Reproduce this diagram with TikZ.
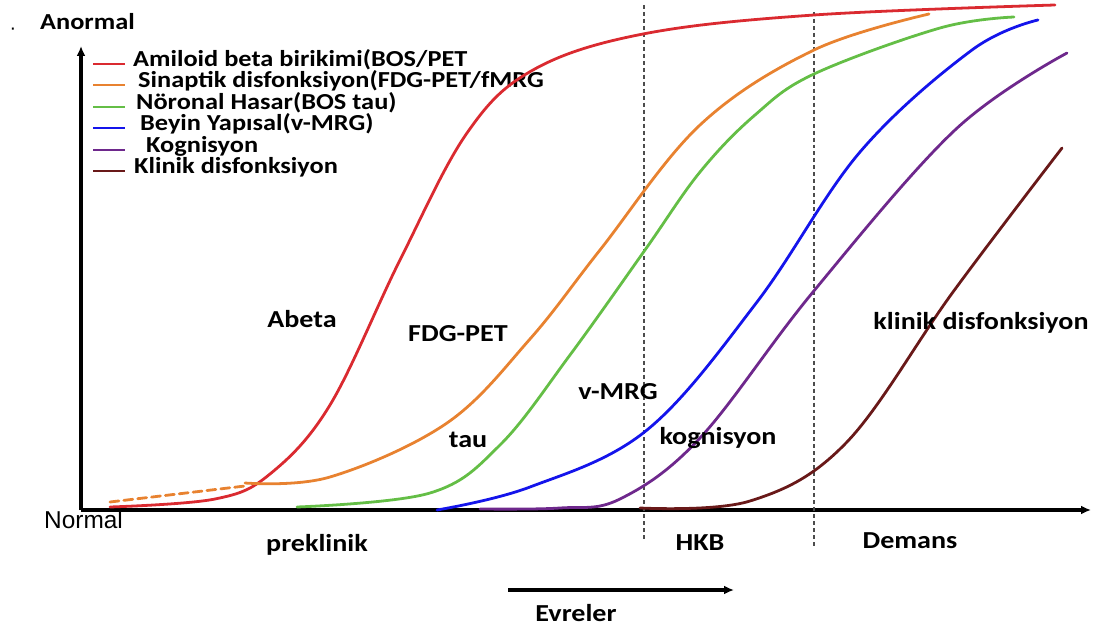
\documentclass[tikz,border=0pt]{standalone}
\usepackage{fontspec}
\setmainfont{Carlito}[FakeStretch=1.15]
\newfontfamily\arialfnt{Liberation Sans}
\usetikzlibrary{arrows.meta}
\definecolor{amyred}{RGB}{218,42,48}
\definecolor{synorange}{RGB}{232,130,48}
\definecolor{taugreen}{RGB}{100,190,70}
\definecolor{mriblue}{RGB}{20,20,235}
\definecolor{cogpurple}{RGB}{110,40,140}
\definecolor{clinbrown}{RGB}{105,25,25}
\tikzstyle{axis}=[line width=3.2pt, -{Latex[length=10pt,width=9pt]}]
\tikzstyle{curve}=[line width=2.8pt, smooth, tension=0.6, line cap=round]
\tikzstyle{stage}=[draw=black!70, line width=2pt, dash pattern=on 4pt off 3pt]
\tikzstyle{keyline}=[line width=3pt]
\tikzstyle{legendtext}=[font=\bfseries\fontsize{23}{24}\selectfont, inner sep=0pt, anchor=mid west]
\tikzstyle{curvetag}=[font=\bfseries\fontsize{24.5}{26}\selectfont, inner sep=0pt, anchor=mid]

\begin{document}
\begin{tikzpicture}[x=1bp, y=-1bp]
  \useasboundingbox (0,0) rectangle (1099,627);

  % axes
  \coordinate (O) at (81,510);
  \coordinate (ytop) at (81,46);
  \coordinate (xend) at (1091,510);
  \draw[axis] (O) -- (ytop);
  \draw[axis] (O) -- (xend);
  \node[inner sep=0pt, font=\arialfnt\fontsize{20}{20}\selectfont] (dot) at (13,31) {·};
  \node[legendtext] (anormal) at (40,27) {Anormal};
  \node[inner sep=0pt, anchor=mid west, font=\arialfnt\fontsize{24.5}{25}\selectfont] (normal) at (44,526) {Normal};

  % stage borders
  \coordinate (hkbtop) at (644,5);
  \coordinate (hkbbot) at (644,540);
  \coordinate (demtop) at (814,12);
  \coordinate (dembot) at (814,546);
  \draw[stage] (hkbtop) -- (hkbbot);
  \draw[stage] (demtop) -- (dembot);

  % legend
  \foreach \name/\y/\xt/\col/\txt in {amy/64/133/amyred/{Amiloid beta birikimi(BOS/PET},
                                      syn/85/138/synorange/{Sinaptik disfonksiyon(FDG-PET/fMRG},
                                      neu/107/136/taugreen/{Nöronal Hasar(BOS tau)},
                                      mri/128/140/mriblue/{Beyin Yapısal(v-MRG)},
                                      cog/150/146/cogpurple/{Kognisyon},
                                      clin/171/134/clinbrown/{Klinik disfonksiyon}}
  {
      \draw[keyline, \col] (93,\y) -- (125,\y);
      \node[legendtext] (\name) at (\xt,\y) {\txt};
  }

  % biomarker curves
  \draw[curve, synorange, dash pattern=on 9pt off 5pt] (110,502) -- (245,486);
  \draw[curve, amyred] plot coordinates {(110,507) (215,499) (270,474) (330,405)
      (400,260) (467,133) (533,70) (643,34) (814,15) (1055,5)};
  \draw[curve, synorange] plot coordinates {(245,483) (330,477) (447,423) (530,339)
      (600,250) (700,125) (814,50) (929,14)};
  \draw[curve, taugreen] plot coordinates {(297,507) (430,493) (500,445) (570,355)
      (645,250) (700,172) (755,115) (814,74) (940,28) (1014,17)};
  \draw[curve, mriblue] plot coordinates {(437,510) (530,487) (647,430) (757,302)
      (860,152) (972,50) (1038,20)};
  \draw[curve, cogpurple] plot coordinates {(480,509) (560,508) (620,499) (700,438)
      (813,292) (955,130) (1067,53)};
  \draw[curve, clinbrown] plot coordinates {(640,508) (750,501) (846,443) (953,292)
      (1062,148)};

  % curve names
  \node[curvetag] (abeta) at (302,325) {Abeta};
  \node[curvetag] (fdg) at (458,339) {FDG-PET};
  \node[curvetag] (tau) at (468,445) {tau};
  \node[curvetag] (vmrg) at (618,397) {v-MRG};
  \node[curvetag] (kog) at (718,442) {kognisyon};
  \node[curvetag] (klin) at (981,327) {klinik disfonksiyon};

  % stages
  \node[curvetag] (prek) at (317,549) {preklinik};
  \node[curvetag] (hkb) at (700,548) {HKB};
  \node[curvetag] (dem) at (910,546) {Demans};
  \coordinate (evS) at (508,590);
  \coordinate (evE) at (734,590);
  \draw[axis] (evS) -- (evE);
  \node[curvetag] (evr) at (576,619) {Evreler};
\end{tikzpicture}
\end{document}
